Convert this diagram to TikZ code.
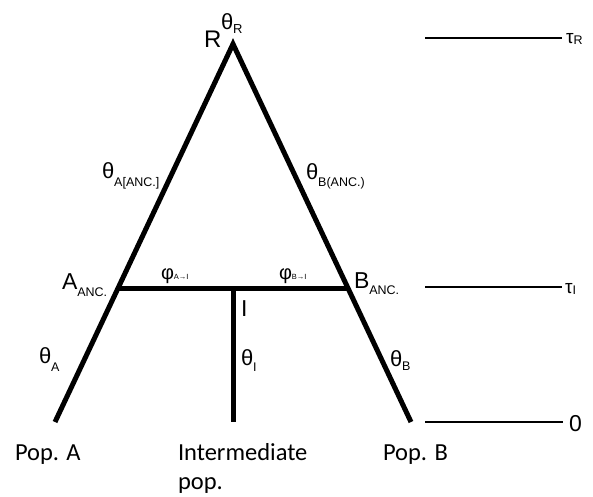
\documentclass[tikz,border=0pt]{standalone}
\usepackage{fontspec}
\setmainfont{Liberation Sans}
\newfontfamily\calibri{Carlito}
\usetikzlibrary{positioning}
\tikzset{
  branch/.style={line width=5pt,draw=black,line join=miter},
  epoch/.style={line width=1.6pt,draw=black},
  lbl/.style={anchor=base west,inner sep=0pt,outer sep=0pt},
  poplbl/.style={anchor=base west,inner sep=0pt,outer sep=0pt,align=left,
    font=\calibri\fontsize{24.5}{29}\selectfont}
}
\newcommand{\fs}[1]{\fontsize{#1}{#1}\selectfont}
\newcommand{\lowsub}[3]{\raisebox{-#1pt}{\fs{#2}#3}}

\begin{document}
\begin{tikzpicture}[x=1pt,y=-1pt]
\useasboundingbox (0,0) rectangle (593,496);
\coordinate (apex) at (233,44);
\coordinate (popa) at (55,422);
\coordinate (popb) at (411,422);
\coordinate (aanc) at (118,288);
\coordinate (banc) at (348,288);
\coordinate (ijoin) at (233,288);
\coordinate (ipop) at (233,422);
\draw[branch] (popa) -- (apex) -- (popb);
\draw[branch] (aanc) -- (banc);
\draw[branch] (ijoin) -- (ipop);
% time axis
\coordinate (tr0) at (425,38);  \coordinate (tr1) at (562,38);
\coordinate (ti0) at (425,287); \coordinate (ti1) at (562,287);
\coordinate (tz0) at (425,422); \coordinate (tz1) at (563,422);
\draw[epoch] (tr0) -- (tr1);
\draw[epoch] (ti0) -- (ti1);
\draw[epoch] (tz0) -- (tz1);
\node[lbl] (taur) at (566,43) {\fs{19}τ\lowsub{1}{12.5}{R}};
\node[lbl] (taui) at (565,293) {\fs{19}τ\lowsub{1}{12.5}{I}};
\node[lbl] (tauz) at (569,431) {\fs{23}0};
% labels
\node[lbl] (rlbl) at (204,47) {\fs{24}R};
\node[lbl] (thr) at (221,29) {\fs{22}θ\lowsub{4}{13}{R}};
\node[lbl] (thaanc) at (102,178) {\fs{22}θ\lowsub{8}{12.5}{A[ANC.]}};
\node[lbl] (thbanc) at (306,179) {\fs{22}θ\lowsub{7}{12.5}{B(ANC.)}};
\node[lbl] (alanc) at (62,289) {\fs{23}A\lowsub{7}{12.5}{ANC.}};
\node[lbl] (blanc) at (354,288) {\fs{23}B\lowsub{6}{12.5}{ANC.}};
\node[lbl] (phia) at (161,279) {\fs{20}φ\lowsub{0}{7.5}{A→I}};
\node[lbl] (phib) at (279,279) {\fs{20}φ\lowsub{0}{7.5}{B→I}};
\node[lbl] (ilbl) at (241,316) {\fs{23}I};
\node[lbl] (thi) at (241,365) {\fs{22}θ\lowsub{6}{12.5}{I}};
\node[lbl] (tha) at (39,363) {\fs{22}θ\lowsub{8}{12.5}{A}};
\node[lbl] (thb) at (390,366) {\fs{22}θ\lowsub{4}{12.5}{B}};
% populations
\node[poplbl] (pa) at (15,460) {Pop. A};
\node[poplbl] (pi) at (178,489) {Intermediate\\pop.};
\node[poplbl] (pb) at (383,460) {Pop. B};
\end{tikzpicture}
\end{document}
